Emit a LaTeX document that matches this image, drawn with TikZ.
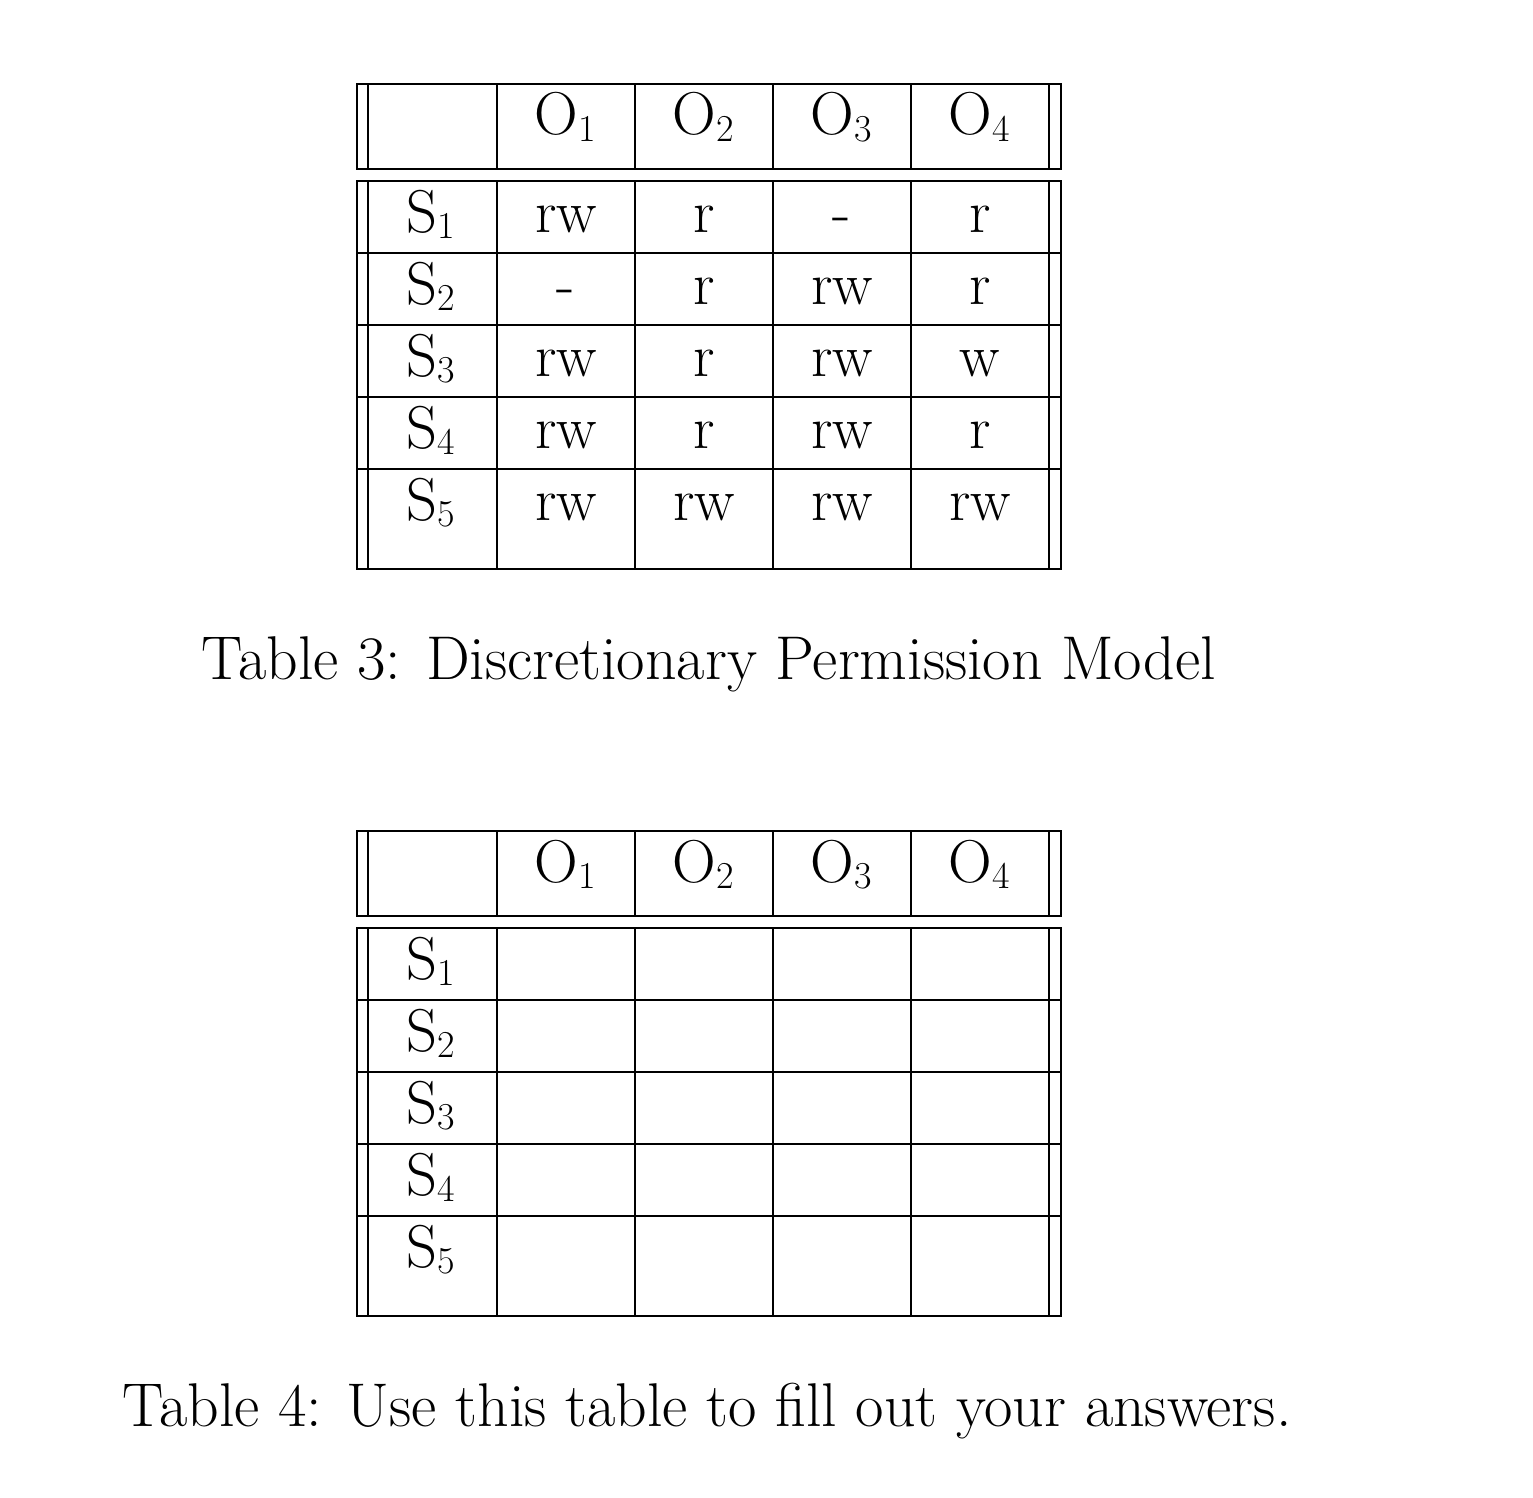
\documentclass[tikz,border=0pt]{standalone}
\newcommand\celltext{\fontsize{60.5}{70}\selectfont}
\newcommand\captext{\fontsize{61.8}{72}\selectfont}
\newcommand\subidx[1]{\raisebox{-6.5pt}{\fontsize{38}{40}\selectfont #1}}
\tikzset{
  grid/.style={line width=2.6pt},
  cell/.style={anchor=base, inner sep=0pt, font=\celltext},
  captionnode/.style={anchor=base, inner sep=0pt, font=\captext}
}
\begin{document}
\begin{tikzpicture}[x=1pt, y=-1pt]
\useasboundingbox (0,0) rectangle (1533,1498);
\foreach \dy/\tb in {0/a, 747/b} {
  \begin{scope}[yshift=-\dy pt]
    % header box
    \draw[grid] (357,84) rectangle (1061,169);
    \foreach \xx in {368,497,635,773,911,1049}
      \draw[grid] (\xx,84) -- (\xx,169);
    % body box
    \draw[grid] (357,181) rectangle (1061,569);
    \foreach \xx in {368,497,635,773,911,1049}
      \draw[grid] (\xx,181) -- (\xx,569);
    \foreach \yy in {253,325,397,469}
      \draw[grid] (357,\yy) -- (1061,\yy);
    % header labels
    \foreach \i/\xx in {1/565,2/703,3/841,4/979}
      \node[cell] (\tb O\i) at (\xx,135) {O\subidx{\i}};
    % row labels
    \foreach \i/\yy in {1/232,2/304,3/376,4/448,5/520}
      \node[cell] (\tb S\i) at (431,\yy) {S\subidx{\i}};
  \end{scope}
}
% entries of table 3
\foreach \r/\yy/\ea/\eb/\ec/\ed in {
  1/232/rw/r/-/r,
  2/304/-/r/rw/r,
  3/376/rw/r/rw/w,
  4/448/rw/r/rw/r,
  5/520/rw/rw/rw/rw} {
  \node[cell] (e\r-1) at (566,\yy) {\ea};
  \node[cell] (e\r-2) at (704,\yy) {\eb};
  \node[cell] (e\r-3) at (842,\yy) {\ec};
  \node[cell] (e\r-4) at (980,\yy) {\ed};
}
\node[captionnode] (cap3) at (709,679) {Table 3: Discretionary Permission Model};
\node[captionnode] (cap4) at (707,1426) {Table 4: Use this table to fill out your answers.};
\end{tikzpicture}
\end{document}
